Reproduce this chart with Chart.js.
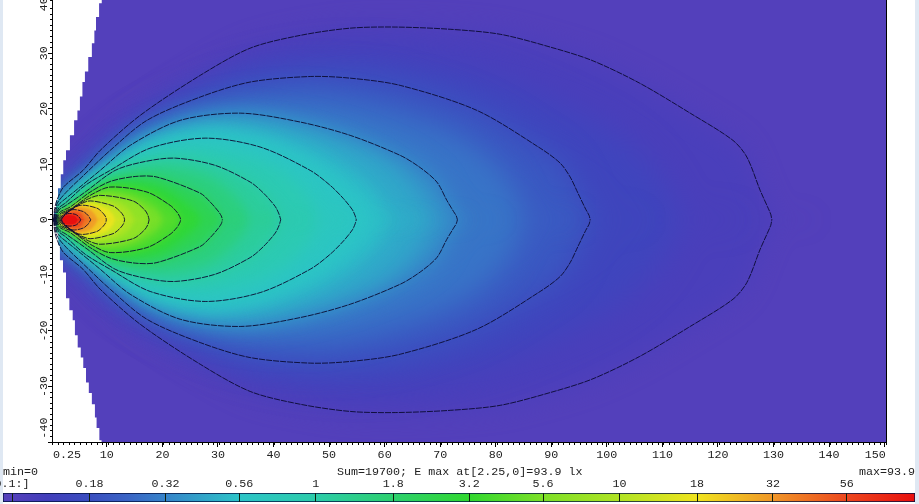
<!DOCTYPE html>
<html>
<head>
<meta charset="utf-8">
<script src="https://cdn.jsdelivr.net/npm/chart.js@4"></script>
<style>
  html, body { margin: 0; padding: 0; background: #fff; overflow: hidden; }
  canvas { position: absolute; left: 0; }
  .strip { position: absolute; top: 0; bottom: 0; background: #dfe8f3; }
  .note { position: absolute; top: 465px; font: 11.7px "Liberation Mono", monospace; color: #222; white-space: pre; }
</style>
</head>
<body>
<div class="strip" style="left:0;width:3px"></div>
<div class="strip" style="left:915px;width:4px"></div>
<canvas id="field" width="919" height="478" style="top:0"></canvas>
<canvas id="scaleBar" width="919" height="26" style="top:478px"></canvas>
<div class="note" style="left:3px">min=0</div>
<div class="note" style="left:337px">Sum=19700; E max at[2.25,0]=93.9 lx</div>
<div class="note" style="right:4px">max=93.9</div>
<script>
// axis labels (the edge labels sit inward of their ticks)
const xLabelAt = [2.83, 10, 20, 30, 40, 50, 60, 70, 80, 90, 100, 110, 120, 130, 140, 148.3]
const xLabels = ['0.25', '10', '20', '30', '40', '50', '60', '70', '80', '90', '100', '110', '120', '130', '140', '150']
const yLabelAt = [-37.5, -30, -20, -10, 0, 10, 20, 30, 38.8]
const yLabels = ['-40', '-30', '-20', '-10', '0', '10', '20', '30', '40']
const xMajor = [10, 20, 30, 40, 50, 60, 70, 80, 90, 100, 110, 120, 130, 140, 150]
const yMajor = [-40, -30, -20, -10, 0, 10, 20, 30]

// colour scale
const barLevels = [0.1, 0.18, 0.32, 0.56, 1, 1.8, 3.2, 5.6, 10, 18, 32, 56]
const barLabels = ['0.1:]', '0.18', '0.32', '0.56', '1', '1.8', '3.2', '5.6', '10', '18', '32', '56']
const barRange = [0.0934, 93.9]

// illuminance contours: x along the beam and half width
const x010 = [0.4, 0.6, 1, 2.2, 5.7, 8.8, 16, 26.8, 35.8, 44.8, 53.8, 61.9, 71.8, 80.8, 89.8, 97.3, 105.9, 115, 122.7, 125.2, 127.6, 128.9, 129.5, 129.7]
const h010 = [0, 2, 3.5, 5.9, 8.9, 12.5, 18.8, 26, 30.9, 33.2, 34.5, 34.7, 34.3, 33.4, 31.1, 28.7, 24.6, 19.2, 14.3, 11.3, 5.3, 2.4, 1, 0]
const x013 = [0.5, 0.7, 2, 6, 12, 20, 30, 40, 50, 60, 70, 80, 90, 100, 106, 110, 112.5, 113.5]
const h013 = [0, 1.9, 5, 8.6, 14.5, 19.5, 25, 28, 29.5, 29.5, 28, 25.5, 21.5, 16.5, 12, 7, 2.5, 0]
const x018 = [0.5, 0.7, 1.2, 3, 5.5, 10.6, 17.2, 26.8, 35.8, 46.6, 53.8, 62.8, 76.6, 88, 91.6, 93.4, 94.8, 96.2, 96.8, 97]
const h018 = [0, 1.8, 3.2, 5.3, 7.7, 12.5, 17.9, 22.1, 24.8, 25.8, 25.5, 24.2, 19.7, 12.9, 10.2, 7.7, 4.8, 1.9, 0.8, 0]
const x024 = [0.5, 0.8, 3, 7, 12, 18, 28, 38, 48, 58, 68, 75, 80, 83, 84.7, 85.5]
const h024 = [0, 1.6, 4.6, 7.4, 12, 15.5, 19.5, 21.5, 21.7, 20, 17, 13.8, 9.8, 6, 2, 0]
const x032 = [0.6, 0.8, 1.3, 2.8, 4.3, 8.8, 14.2, 23.2, 34, 44.8, 53.8, 62.8, 66.4, 69.4, 71.2, 72.4, 72.9, 73.1]
const h032 = [0, 1.5, 2.7, 4, 5.2, 8.9, 13.4, 17.9, 19.2, 17.6, 15.2, 11.6, 9.4, 6.8, 3.5, 1.5, 0.7, 0]
const x038 = [0.6, 0.9, 3, 7, 12, 19, 30, 40, 50, 58, 62, 65.5, 67.5, 68.3]
const h038 = [0, 1.4, 3.7, 6.8, 11, 15.3, 17.8, 17.3, 14.8, 11.5, 8.8, 5, 1.8, 0]
const x045 = [0.65, 0.9, 3, 7, 12, 19, 29, 39, 48, 54, 58, 60.5, 62]
const h045 = [0, 1.3, 3.5, 6.4, 10, 14, 16.3, 15.3, 12.3, 9, 5.7, 2.6, 0]
const x050 = [0.65, 0.9, 3, 7, 12, 18, 28, 38, 47, 52, 55.5, 57.5, 58.5]
const h050 = [0, 1.3, 3.3, 6.2, 9.5, 13.3, 15.5, 14.2, 10.8, 7.5, 4.5, 2, 0]
const x056 = [0.7, 0.9, 1.4, 2.5, 6.1, 10.6, 17.8, 27.7, 37.6, 46.6, 50.2, 52.6, 54.2, 54.7, 54.9]
const h056 = [0, 1.2, 2.2, 3, 6.2, 8.9, 12.9, 14.7, 13.1, 8.9, 6.2, 3.8, 1.8, 0.7, 0]
const x075 = [0.75, 1, 2.5, 6, 11, 17.5, 26, 36, 42, 45.5, 47.5, 48.3]
const h075 = [0, 1.1, 2.7, 5.6, 8.9, 11.7, 12.9, 11, 8.2, 5, 2, 0]
const x100 = [0.8, 1, 1.5, 2.5, 6.1, 11.5, 16.9, 22.3, 29.5, 35.8, 38.2, 40.3, 41, 41.3]
const h100 = [0, 1, 1.9, 2.5, 5, 8.9, 10.5, 11.1, 9.8, 6.8, 4.8, 2.4, 1, 0]
const x135 = [0.85, 1.1, 3, 6.5, 11, 16, 21, 28, 32, 34.8, 36]
const h135 = [0, 0.9, 2, 5, 7.9, 9.2, 9.4, 7.8, 5.2, 2.2, 0]
const x180 = [0.85, 1.1, 1.7, 3.4, 7, 10.6, 15.1, 19, 26.8, 28.6, 30, 30.6, 30.8]
const h180 = [0, 0.8, 1.5, 2.3, 5, 6.9, 7.8, 7.7, 4.8, 3.2, 1.6, 0.7, 0]
const x240 = [0.9, 1.2, 3.5, 7, 10.6, 15, 20, 24, 26.2, 27.2]
const h240 = [0, 0.8, 2, 4.7, 6.4, 6.6, 5.6, 3.2, 1.4, 0]
const x320 = [1, 1.2, 1.9, 3.7, 7, 10.6, 17.2, 21.4, 22.6, 23.1, 23.3]
const h320 = [0, 0.7, 1.3, 2.1, 4.4, 5.9, 5, 2.6, 1.4, 0.6, 0]
const x420 = [1.1, 1.3, 3.5, 6.5, 9.5, 14, 18, 19.6, 20.3]
const h420 = [0, 0.7, 1.9, 3.9, 5.2, 4.6, 2.6, 1.2, 0]
const x560 = [1.2, 1.4, 2, 3.4, 6.1, 8.8, 14.7, 16.8, 17.4, 17.6]
const h560 = [0, 0.6, 1.1, 1.8, 3.5, 4.4, 3.4, 1.8, 0.8, 0]
const x750 = [1.3, 1.5, 3, 5.5, 8, 12, 14, 15.2]
const h750 = [0, 0.5, 1.3, 3, 3.9, 3.1, 1.8, 0]
const x10k = [1.4, 1.6, 2.6, 4.8, 7, 11.1, 12.4, 13, 13.2]
const h10k = [0, 0.5, 1.1, 2.6, 3.4, 2.5, 1.5, 0.7, 0]
const x13k = [1.5, 1.7, 2.6, 5, 7.5, 10, 11, 11.6]
const h13k = [0, 0.5, 1, 2.7, 2.9, 2, 1.1, 0]
const x18k = [1.6, 1.8, 2.6, 5.2, 8.2, 9.3, 9.8, 9.9]
const h18k = [0, 0.5, 1.2, 2.6, 2.1, 1.2, 0.5, 0]
const x24k = [1.7, 1.9, 2.8, 4.8, 7, 7.9, 8.4]
const h24k = [0, 0.5, 1.3, 2.3, 1.8, 0.9, 0]
const x32k = [1.75, 2, 3.7, 5.7, 6.6, 7.1]
const h32k = [0, 0.5, 1.8, 1.5, 0.8, 0]
const x43k = [1.8, 2.1, 3, 4.2, 5.3, 6]
const h43k = [0, 0.5, 1.3, 1.5, 1.2, 0]
const x56k = [1.85, 2.1, 2.9, 4.3, 5, 5.3]
const h56k = [0, 0.5, 1.1, 1, 0.5, 0]
const x75k = [1.9, 2.3, 3.2, 4.3, 4.8]
const h75k = [0, 0.6, 0.8, 0.6, 0]

const levels = [0.1, 0.13, 0.18, 0.24, 0.32, 0.38, 0.45, 0.5, 0.56, 0.75, 1, 1.35, 1.8, 2.4, 3.2, 4.2, 5.6, 7.5, 10, 13.5, 18, 24, 32, 43, 56, 75]
const levelXs = [x010, x013, x018, x024, x032, x038, x045, x050, x056, x075, x100, x135, x180, x240, x320, x420, x560, x750, x10k, x13k, x18k, x24k, x32k, x43k, x56k, x75k]
const levelHs = [h010, h013, h018, h024, h032, h038, h045, h050, h056, h075, h100, h135, h180, h240, h320, h420, h560, h750, h10k, h13k, h18k, h24k, h32k, h43k, h56k, h75k]

// staircase edge of the lit area
const edgeTopX = [0.25, 0.5, 0.85, 1.2, 1.7, 2.15, 2.65, 3.35, 4.1, 4.7, 5.15, 5.6, 6.05, 6.65, 7.3, 7.75, 8.05, 8.6, 9.1]
const edgeTopY = [0.3, 1.4, 3.5, 5.7, 8.2, 10.7, 12.5, 15.2, 17.9, 19.7, 22.2, 24.8, 26.7, 29.3, 31.8, 34.1, 36.5, 39, 39.6]
const edgeLowX = [0.25, 0.5, 0.85, 1.25, 1.55, 2.1, 2.65, 3.25, 3.85, 4.25, 4.75, 5.3, 5.75, 6.25, 6.75, 7.3, 7.85, 8.15, 8.65, 9.05, 9.5]
const edgeLowY = [-0.3, -1, -2.3, -4.6, -7.3, -9.5, -14.1, -16.3, -18.1, -20.8, -23, -24.8, -26.7, -29.3, -31.2, -33.2, -35.6, -37.5, -39.7, -40, -40]

// styles
const rampLevels = [0.0934, 0.1, 0.13, 0.18, 0.24, 0.32, 0.56, 1, 1.8, 3.2, 5.6, 10, 18, 32, 56, 93.9]
const rampColors = [[83, 64, 187], [83, 64, 187], [66, 62, 187], [58, 78, 192], [58, 100, 197], [54, 132, 202], [44, 196, 200], [44, 204, 170], [44, 208, 110], [48, 216, 48], [125, 224, 40], [176, 228, 36], [240, 228, 30], [240, 150, 40], [236, 70, 30], [232, 15, 15]]
const levelBlur = [12, 16, 16, 14, 12, 10, 9, 9, 9, 8, 7, 6, 5, 4, 3.5, 3, 2.5, 2, 2, 1.5, 1.2, 1, 1, 0.8, 0.7, 0.6]
const tipRoom = 14
const purple = 'rgb(83,64,187)'
const lineColor = '#0a0a30'
const textFont = { family: '"Liberation Mono", monospace', size: 11.7 }
const textColor = '#222'

const rampColor = (v) => {
    let i = 0
    while (i < rampLevels.length - 2 && v > rampLevels[i + 1]) i++
    const t = Math.min(1, (Math.log(v) - Math.log(rampLevels[i])) / (Math.log(rampLevels[i + 1]) - Math.log(rampLevels[i])))
    const c = rampColors[i].map((a, k) => Math.round(a + (rampColors[i + 1][k] - a) * t))
    return `rgb(${c[0]},${c[1]},${c[2]})`
}

const pts = (xs, ys, sign) => xs.map((x, i) => ({ x: x, y: ys[i] * sign }))
// filler clips to the x span of the line, a flat tail past the tip leaves room for the soft edge
const tail = (list, i) => list.concat({ x: list[list.length - 1].x + Math.min(tipRoom, levelBlur[i] * 0.9), y: 0 })

// chart draws last dataset first, so: lines on top, then the white edge, then fills inner to outer
const lineSets = []
const fillSets = []
barLevels.forEach((lv) => {
    const i = levels.indexOf(lv)
    lineSets.push({ data: pts(levelXs[i], levelHs[i], 1), borderColor: lineColor, borderWidth: 0.9, borderDash: [6, 1], tension: 0.3 })
    lineSets.push({ data: pts(levelXs[i], levelHs[i], -1), borderColor: lineColor, borderWidth: 0.9, borderDash: [6, 1], tension: 0.3 })
})
const edgeSets = [
    { data: pts(edgeTopX, edgeTopY, 1), borderWidth: 0, stepped: 'before', fill: 'end', backgroundColor: '#fff' },
    { data: pts(edgeLowX, edgeLowY, 1), borderWidth: 0, stepped: 'before', fill: 'start', backgroundColor: '#fff' }
]
for (let i = levels.length - 1; i >= 0; i--) {
    const shade = levels[i] * (levels[i] >= 1.8 ? 1.25 : 1.15)
    fillSets.push({ data: tail(pts(levelXs[i], levelHs[i], 1), i), borderWidth: 0, tension: 0.3, fill: '+1', backgroundColor: rampColor(shade), blur: levelBlur[i] })
    fillSets.push({ data: tail(pts(levelXs[i], levelHs[i], -1), i), borderWidth: 0, tension: 0.3, fill: false, blur: levelBlur[i] })
}
const groundSets = [
    { data: [{ x: 0.25, y: 45 }, { x: 150.25, y: 45 }], borderWidth: 0, fill: '+1', backgroundColor: purple },
    { data: [{ x: 0.25, y: -45 }, { x: 150.25, y: -45 }], borderWidth: 0, fill: false }
]

// soft edge for each fill, gives the smooth shading between contours
const softFill = {
    id: 'softFill',
    beforeDatasetsDraw(chart) {
        chart.ctx.filter = 'none'
    },
    afterDatasetDraw(chart, args) {
        const next = chart.data.datasets[args.index - 1]
        chart.ctx.filter = next && next.blur ? `blur(${next.blur}px)` : 'none'
    },
    afterDatasetsDraw(chart) {
        chart.ctx.filter = 'none'
    }
}

const setTicks = (values) => (scale) => { scale.ticks = values.map((v) => ({ value: v })) }
const noPad = (scale) => { scale.paddingLeft = scale.paddingRight = scale.paddingTop = scale.paddingBottom = 0 }
const marks = (min, max, step, pos, len, values) => ({
    type: 'linear', min: min, max: max, position: pos,
    afterBuildTicks: values ? setTicks(values) : undefined,
    ticks: { display: false, stepSize: step, autoSkip: false },
    grid: { drawOnChartArea: false, tickLength: len, tickColor: '#000', tickWidth: 1 },
    border: { display: false }
})

new Chart(document.getElementById('field'), {
    type: 'line',
    data: { datasets: [...lineSets, ...edgeSets, ...fillSets, ...groundSets] },
    plugins: [softFill],
    options: {
        responsive: false,
        animation: false,
        parsing: { xAxisKey: 'x', yAxisKey: 'y' },
        elements: { point: { radius: 0 } },
        layout: { padding: { top: 0, right: 33, left: 0, bottom: 0 } },
        plugins: { legend: { display: false }, tooltip: { enabled: false } },
        scales: {
            x: {
                type: 'linear', min: 0.25, max: 150.25,
                afterBuildTicks: setTicks(xLabelAt),
                afterFit: (s) => { s.height = 36; noPad(s) },
                ticks: { autoSkip: false, maxRotation: 0, padding: 6, color: textColor, font: textFont, callback: (v, i) => xLabels[i] },
                grid: { drawOnChartArea: false, drawTicks: false },
                border: { color: '#000', width: 2 }
            },
            y: {
                type: 'linear', min: -40, max: 39.57,
                afterBuildTicks: setTicks(yLabelAt),
                afterFit: (s) => { s.width = 52.7; noPad(s) },
                ticks: { autoSkip: false, minRotation: 90, maxRotation: 90, crossAlign: 'center', padding: -2, color: textColor, font: textFont, callback: (v, i) => yLabels[i] },
                grid: { drawOnChartArea: false, drawTicks: false },
                border: { color: '#000', width: 2 }
            },
            xMajorMarks: marks(0.25, 150.25, 10, { y: -40 }, 5, xMajor),
            xMinorMarks: marks(0.25, 150.25, 1, { y: -40 }, 3),
            yMajorMarks: marks(-40, 39.57, 10, { x: 0.25 }, 5, yMajor),
            yMinorMarks: marks(-40, 39.57, 1, { x: 0.25 }, 3),
            rightEdge: {
                type: 'linear', position: 'right', min: -40, max: 39.57,
                afterFit: (s) => { s.width = 0; noPad(s) },
                ticks: { display: false },
                grid: { drawOnChartArea: false, drawTicks: false },
                border: { color: '#000', width: 2 }
            }
        }
    }
})

const barFill = (ctx) => {
    const chart = ctx.chart
    const area = chart.chartArea
    if (!area) return purple
    const g = chart.ctx.createLinearGradient(area.left, 0, area.right, 0)
    const span = Math.log(barRange[1]) - Math.log(barRange[0])
    rampLevels.forEach((lv) => {
        g.addColorStop(Math.min(1, (Math.log(lv) - Math.log(barRange[0])) / span), rampColor(lv))
    })
    return g
}

new Chart(document.getElementById('scaleBar'), {
    type: 'bar',
    data: {
        labels: [''],
        datasets: [{ data: [barRange], backgroundColor: barFill, borderColor: '#001040', borderWidth: 1, borderSkipped: false, barPercentage: 1, categoryPercentage: 1 }]
    },
    options: {
        indexAxis: 'y',
        responsive: false,
        animation: false,
        layout: { padding: { left: 3, right: 4, top: 0, bottom: 2 } },
        plugins: { legend: { display: false }, tooltip: { enabled: false } },
        scales: {
            x: {
                type: 'logarithmic', position: 'top', min: barRange[0], max: barRange[1],
                afterBuildTicks: setTicks(barLevels),
                afterFit: (s) => { s.height = 15; noPad(s) },
                ticks: { autoSkip: false, maxRotation: 0, padding: 2, color: textColor, font: textFont, callback: (v, i) => barLabels[i] },
                grid: { color: '#102010', z: 1, drawTicks: false },
                border: { display: false }
            },
            y: { display: false }
        }
    }
})
</script>
</body>
</html>
